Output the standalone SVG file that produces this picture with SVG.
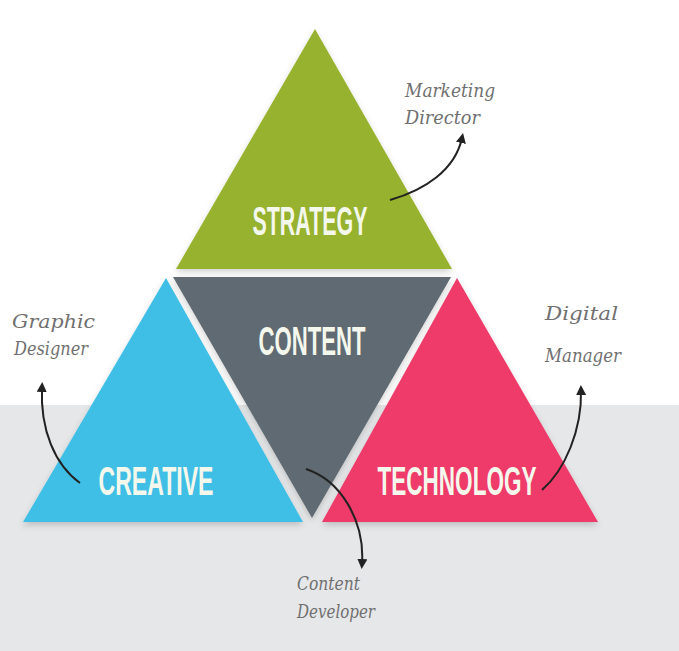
<svg xmlns="http://www.w3.org/2000/svg" width="679" height="651" viewBox="0 0 679 651">
<defs>
<filter id="sh" x="-10%" y="-10%" width="120%" height="125%">
<feDropShadow dx="0" dy="3" stdDeviation="3" flood-color="#000" flood-opacity="0.18"/>
</filter>
<marker id="ah" viewBox="0 0 10 10" refX="5" refY="5" markerWidth="10" markerHeight="10" orient="auto-start-reverse" markerUnits="userSpaceOnUse">
<path d="M0,0 L10,5 L0,10 Z" fill="#222"/>
</marker>
</defs>
<style>
.lbl{font-family:"Liberation Sans",Arial,sans-serif;font-weight:bold;fill:#f4f7ec;text-anchor:middle}
.hand{font-family:"DejaVu Serif","Liberation Serif",serif;font-style:italic;fill:#707070;font-size:19px}
.con{fill:none;stroke:#222;stroke-width:2}
</style>
<rect x="0" y="0" width="679" height="651" fill="#ffffff"/>
<rect x="0" y="405" width="679" height="246" fill="#e6e7e9"/>

<g id="strategy">
<polygon points="315,29 452,269 176,269" fill="#97b22d" filter="url(#sh)"/>
<text class="lbl" x="310" y="235" font-size="40" textLength="115" lengthAdjust="spacingAndGlyphs" fill="#f1f6dc">STRATEGY</text>
</g>
<g id="content">
<polygon points="173,277 451,277 312,518" fill="#5f6a72" filter="url(#sh)"/>
<text class="lbl" x="312" y="355" font-size="40" textLength="107" lengthAdjust="spacingAndGlyphs">CONTENT</text>
</g>
<g id="creative">
<polygon points="166,278 303,522 23,522" fill="#3fbfe6" filter="url(#sh)"/>
<text class="lbl" x="156" y="495" font-size="40" textLength="115" lengthAdjust="spacingAndGlyphs">CREATIVE</text>
</g>
<g id="technology">
<polygon points="457,278 598,522 322,522" fill="#ee3a69" filter="url(#sh)"/>
<text class="lbl" x="457" y="495" font-size="40" textLength="159" lengthAdjust="spacingAndGlyphs">TECHNOLOGY</text>
</g>

<g id="marketing-director">
<text class="hand" x="405" y="97" textLength="90" lengthAdjust="spacingAndGlyphs">Marketing</text>
<text class="hand" x="405" y="124" textLength="75" lengthAdjust="spacingAndGlyphs">Director</text>
</g>
<g id="graphic-designer">
<text class="hand" x="12" y="328" textLength="83" lengthAdjust="spacingAndGlyphs">Graphic</text>
<text class="hand" x="14" y="355" textLength="74" lengthAdjust="spacingAndGlyphs">Designer</text>
</g>
<g id="digital-manager">
<text class="hand" x="545" y="320" textLength="73" lengthAdjust="spacingAndGlyphs">Digital</text>
<text class="hand" x="545" y="362" textLength="76" lengthAdjust="spacingAndGlyphs">Manager</text>
</g>
<g id="content-developer">
<text class="hand" x="297" y="590" textLength="63" lengthAdjust="spacingAndGlyphs">Content</text>
<text class="hand" x="297" y="618" textLength="78" lengthAdjust="spacingAndGlyphs">Developer</text>
</g>

<g id="connectors">
<path class="con" d="M390,200 C425,190 455,170 462,138" marker-end="url(#ah)"/>
<path class="con" d="M80,483 C55,465 40,430 42,387" marker-end="url(#ah)"/>
<path class="con" d="M542,490 C565,470 582,430 581,390" marker-end="url(#ah)"/>
<path class="con" d="M306,469 C340,480 365,520 362,564" marker-end="url(#ah)"/>
</g>
</svg>
